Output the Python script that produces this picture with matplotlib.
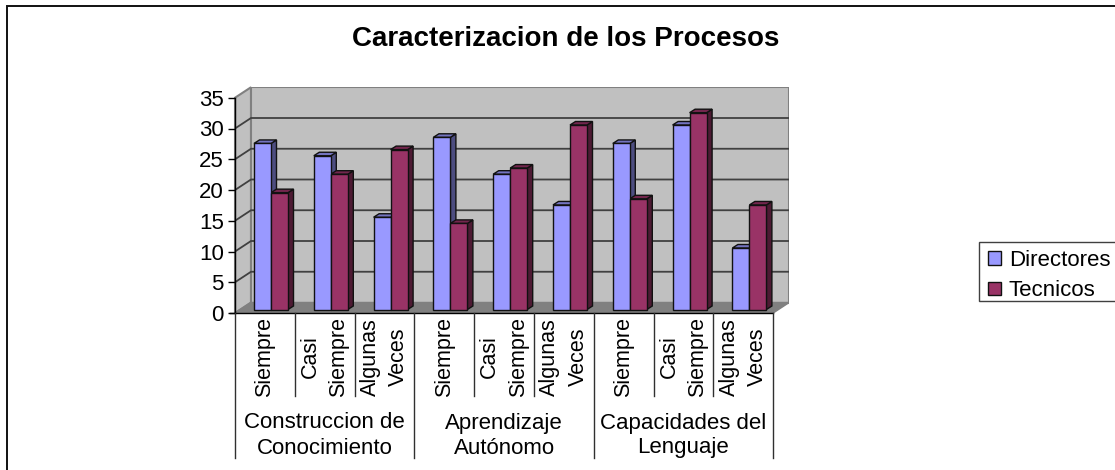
#!/usr/bin/env python3
"""Caracterizacion de los Procesos: bar chart drawn with a fake 3D look."""

import matplotlib
matplotlib.use('Agg')
import matplotlib.pyplot as plt
from matplotlib.patches import Polygon, Rectangle

plt.rcParams['font.family'] = ['Liberation Sans', 'DejaVu Sans']

title = 'Caracterizacion de los Procesos'
subcategories = ['Siempre', 'Casi\nSiempre', 'Algunas\nVeces'] * 3
groups = ['Construccion de\nConocimiento', 'Aprendizaje\nAutónomo', 'Capacidades del\nLenguaje']
directores = [27, 25, 15, 28, 22, 17, 27, 30, 10]
tecnicos = [19, 22, 26, 14, 23, 30, 18, 32, 17]
y_ticks = [0, 5, 10, 15, 20, 25, 30, 35]

W, H = 1115, 470
PX_X = 59.8   # pixels per category
PX_Y = 6.15   # pixels per value unit
LEFT, BASE = 235, 313
WALL_DX, WALL_DY = 16 / PX_X, 10.5 / PX_Y
BAR_DX, BAR_DY = 5.5 / PX_X, 3.5 / PX_Y
BAR_W = 17 / PX_X
BAR_LIFT = 3.5 / PX_Y

BLUE, BLUE_SIDE, BLUE_TOP = '#9999ff', '#4d4d80', '#7373bf'
RED, RED_SIDE, RED_TOP = '#993366', '#4d1a33', '#73264d'


def draw_bar(ax, x, value, front, side, top):
    y0 = BAR_LIFT
    y1 = y0 + value
    ax.add_patch(Polygon([(x + BAR_W, y0), (x + BAR_W + BAR_DX, y0 + BAR_DY),
                          (x + BAR_W + BAR_DX, y1 + BAR_DY), (x + BAR_W, y1)],
                         fc=side, ec='#111111', lw=1, zorder=3))
    ax.add_patch(Polygon([(x, y1), (x + BAR_DX, y1 + BAR_DY),
                          (x + BAR_W + BAR_DX, y1 + BAR_DY), (x + BAR_W, y1)],
                         fc=top, ec='#111111', lw=1, zorder=3))
    ax.add_patch(Rectangle((x, y0), BAR_W, value, fc=front, ec='#111111', lw=1, zorder=4))


def main():
    fig = plt.figure(figsize=(W / 100, H / 100), dpi=100)

    # outer frame of the chart, only left and top fall inside the picture
    fig.add_artist(Rectangle((7 / W, -0.02), 1.1, 1 - 6 / H + 0.02, transform=fig.transFigure,
                             fc='none', ec='#111111', lw=1.4))

    n = len(directores)
    x_max = n + WALL_DX
    y_max = 35 + WALL_DY
    ax = fig.add_axes([LEFT / W, (H - BASE) / H, x_max * PX_X / W, y_max * PX_Y / H])
    ax.set_xlim(0, x_max)
    ax.set_ylim(0, y_max)
    ax.patch.set_visible(False)
    for s in ['top', 'right', 'bottom']:
        ax.spines[s].set_visible(False)
    ax.spines['left'].set_bounds(0, 35)
    ax.spines['left'].set_linewidth(1)
    ax.set_xticks([])
    ax.set_yticks(y_ticks)
    ax.tick_params(axis='y', length=5, width=1, labelsize=16, pad=3)

    # side wall, back wall and floor
    ax.add_patch(Polygon([(0, 0), (WALL_DX, WALL_DY), (WALL_DX, y_max), (0, 35)],
                         fc='#c0c0c0', ec='#808080', lw=1.5, zorder=1, clip_on=False))
    ax.add_patch(Rectangle((WALL_DX, WALL_DY), n, 35, fc='#c0c0c0', ec='#808080', lw=1.5, zorder=1))
    ax.add_patch(Polygon([(0, 0), (WALL_DX, WALL_DY), (x_max, WALL_DY), (n, 0)],
                         fc='#808080', ec='#808080', lw=1, zorder=1))
    for v in y_ticks[1:-1]:
        ax.plot([0, WALL_DX, x_max], [v, v + WALL_DY, v + WALL_DY], color='#404040', lw=1.3, zorder=2,
                solid_joinstyle='miter')

    for i in range(n):
        draw_bar(ax, i + 19 / PX_X, directores[i], BLUE, BLUE_SIDE, BLUE_TOP)
        draw_bar(ax, i + 19 / PX_X + BAR_W, tecnicos[i], RED, RED_SIDE, RED_TOP)

    # axis line and the two label rows under the chart
    ax.plot([-5 / PX_X, n], [0, 0], color='black', lw=1, zorder=5, clip_on=False)
    low = -(396 - BASE) / PX_Y
    bottom = -(458 - BASE) / PX_Y
    for i in range(n + 1):
        y_end = bottom if i % 3 == 0 else low
        ax.plot([i, i], [0, y_end], color='#303030', lw=1, clip_on=False, zorder=5)
    for i, label in enumerate(subcategories):
        ax.text(i + 0.5, -(357 - BASE) / PX_Y, label, rotation=90, ha='center', va='center', fontsize=15.5,
                linespacing=1.48, multialignment='center')
    for i, label in enumerate(groups):
        ax.text(3 * i + 1.5, -(435.5 - BASE) / PX_Y, label, ha='center', va='center', fontsize=16, linespacing=1.25)

    fig.text(566 / W, 1 - 38.5 / H, title, ha='center', va='center', fontsize=20, fontweight='bold')

    # legend, its frame runs off the right edge of the picture
    fig.add_artist(Rectangle((979 / W, 1 - 301 / H), 200 / W, 59.5 / H, transform=fig.transFigure,
                             fc='white', ec='#404040', lw=1))
    handles = [Rectangle((0, 0), 1, 1, fc=BLUE, ec='#111111', lw=1),
               Rectangle((0, 0), 1, 1, fc=RED, ec='#111111', lw=1)]
    fig.legend(handles, ['Directores', 'Tecnicos'], loc='upper left',
               bbox_to_anchor=(988 / W, 1 - 250 / H), fontsize=16, frameon=False, borderpad=0,
               labelspacing=0.42, handlelength=0.58, handleheight=0.55, handletextpad=0.36, borderaxespad=0)

    fig.savefig('out.png', dpi=100)


if __name__ == "__main__":
    main()
